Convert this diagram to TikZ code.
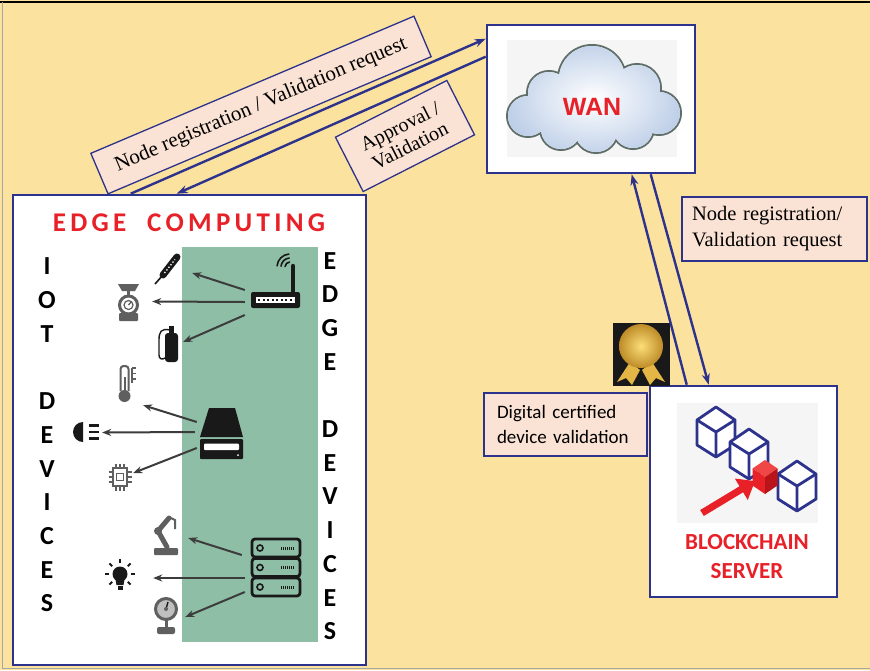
\documentclass[tikz,border=0pt]{standalone}
\usepackage{fontspec}
\usetikzlibrary{arrows.meta,shadings,calc}
\newfontfamily\carlito{Carlito}
\newfontfamily\carlitowide[LetterSpace=16]{Carlito}
\newfontfamily\serifface{Liberation Serif}
\newfontfamily\arialface{Liberation Sans}
\definecolor{bgyellow}{RGB}{251,226,158}
\definecolor{navy}{RGB}{45,50,140}
\definecolor{pinklabel}{RGB}{250,226,212}
\definecolor{sage}{RGB}{143,190,166}
\definecolor{titlered}{RGB}{232,32,40}
\definecolor{redshade}{RGB}{185,20,25}
\definecolor{redlight}{RGB}{240,70,70}
\definecolor{iconink}{RGB}{25,25,25}
\definecolor{icongray}{RGB}{95,95,95}
\definecolor{cloudedge}{RGB}{95,110,105}
\definecolor{cloudblue}{RGB}{190,207,232}
\definecolor{medallight}{RGB}{252,222,120}
\definecolor{medaldark}{RGB}{190,140,40}
\definecolor{ribbongold}{RGB}{228,182,70}
\begin{document}
\begin{tikzpicture}[x=1pt,y=-1pt,
  panel/.style={draw=navy, line width=2.6pt, fill=white, inner sep=0pt},
  tag/.style={draw=navy, line width=1.3pt, fill=pinklabel, inner sep=2pt},
  flow/.style={draw=navy, line width=2.4pt, -{Stealth[length=11pt,width=8pt]}},
  ptr/.style={draw=iconink!85, line width=2pt, -{Stealth[length=9pt,width=7pt]}},
  iconspot/.style={inner sep=0pt},
  letters/.style={font=\carlito\bfseries\fontsize{26}{33.7}\selectfont, align=center, inner sep=0pt},
  blockcube/.pic={
    \draw[navy, line width=2.8pt, fill=white, line join=round]
      (0,-25) -- (19,-12) -- (19,13) -- (0,25) -- (-19,13) -- (-19,-12) -- cycle;
    \draw[navy, line width=2.8pt, line join=round]
      (-19,-12) -- (0,0) -- (19,-12) (0,0) -- (0,25);
  }]
\useasboundingbox (0,0) rectangle (870,670);
\fill[bgyellow] (0,0) rectangle (870,670);
\draw[black, line width=2pt] (0,2) -- (870,2);
\draw[gray!70, line width=1pt] (2,2) -- (2,668) -- (870,668);

% ---------------- main panels ----------------
\node[panel, minimum width=353pt, minimum height=470pt] (edge) at (189.5,430) {};
\node[panel, minimum width=208pt, minimum height=148pt] (wan) at (591,99) {};
\node[panel, minimum width=187pt, minimum height=211pt] (chain) at (743.5,491.5) {};

% ---------------- edge computing panel ----------------
\fill[sage] (182,247) rectangle (318,642);
\node[font=\carlitowide\bfseries\fontsize{27}{30}\selectfont, text=titlered] (edgetitle) at (189,223) {EDGE\ \ COMPUTING};
\node[letters] (iotcol) at (47,435) {I\\O\\T\\[33.7pt]D\\E\\V\\I\\C\\E\\S};
\node[letters] (edgecol) at (330,446) {E\\D\\G\\E\\[33.7pt]D\\E\\V\\I\\C\\E\\S};

% edge devices
\node[iconspot, minimum width=49pt, minimum height=16pt] (router) at (275.5,300) {};
\node[iconspot, minimum width=43pt, minimum height=50pt] (hdd) at (221.5,433) {};
\node[iconspot, minimum width=52pt, minimum height=59pt] (rack) at (276,567.5) {};

% router
\draw[iconink, line width=4.5pt, line cap=round] (293,292) -- (293,266);
\foreach \r in {5,9,13}
  \draw[iconink, line width=1.6pt, line cap=round] (290,267) ++(185:\r) arc[start angle=185, end angle=265, radius=\r];
\fill[iconink, rounded corners=2pt] (251,292) rectangle (300,308);
\fill[white] (256,297) rectangle (295,303);
\draw[iconink, line width=2pt, dash pattern=on 2pt off 2.5pt] (258,300) -- (294,300);

% storage drive
\fill[iconink] (209,408) -- (235,408) -- (243,437) -- (200,437) -- cycle;
\fill[iconink, rounded corners=1pt] (200,439) rectangle (243,459);
\fill[white, rounded corners=1pt] (204,443.5) rectangle (239,450);
\fill[white] (238,455) circle (1);

% server rack
\foreach \yy in {539,558.5,578} {
  \draw[iconink, line width=2.8pt, rounded corners=3pt] (252,\yy) rectangle ++(48,18);
  \draw[iconink, line width=1.6pt] (260,{\yy+9}) circle (3);
  \draw[iconink, line width=3pt, dash pattern=on 1pt off 1pt] (281,{\yy+9}) -- (294,{\yy+9});
}

% IoT devices
\node[iconspot, minimum width=27pt, minimum height=30pt] (pen) at (166.5,268) {};
\node[iconspot, minimum width=23pt, minimum height=37pt] (scale) at (128.5,301.5) {};
\node[iconspot, minimum width=21pt, minimum height=37pt] (cylinder) at (167.5,343.5) {};
\node[iconspot, minimum width=18pt, minimum height=38pt] (thermo) at (126,384) {};
\node[iconspot, minimum width=30pt, minimum height=21pt] (lamp) at (85,432.5) {};
\node[iconspot, minimum width=18pt, minimum height=27pt] (chip) at (119,476.5) {};
\node[iconspot, minimum width=25pt, minimum height=40pt] (robot) at (165.5,535) {};
\node[iconspot, minimum width=30pt, minimum height=40pt] (bulb) at (120,580) {};
\node[iconspot, minimum width=25pt, minimum height=37pt] (gauge) at (165.5,616.5) {};

% syringe
\draw[iconink, line width=7pt, line cap=round] (163,275) -- (177,257);
\draw[white, line width=1.3pt, dash pattern=on 1.3pt off 2pt] (164.5,273) -- (175,259.5);
\draw[iconink, line width=1.6pt] (163,275) -- (155,284);
% kitchen scale
\fill[icongray] (118,284) -- (139,284) -- (135,291) -- (122,291) -- cycle;
\draw[icongray, line width=2.2pt] (128.5,291) -- (128.5,296);
\draw[icongray, line width=3pt] (128.5,305) circle (9);
\draw[icongray, line width=1.2pt] (128.5,305) circle (4.5);
\draw[icongray, line width=1.3pt] (128.5,305) -- (131.5,301.5);
\fill[icongray, rounded corners=1pt] (119,313) rectangle (138,321);
% gas cylinder
\fill[iconink, rounded corners=3pt] (165,333) rectangle (178,362);
\fill[iconink] (169,326) rectangle (174,333);
\draw[iconink, line width=1.4pt] (170,330) .. controls (161,328) and (159,332) .. (159,340) -- (159,355) .. controls (159,359) and (162,360) .. (165,358);
% thermometer
\draw[icongray, line width=2pt, rounded corners=3pt] (120.5,391) -- (120.5,366) -- (128.5,366) -- (128.5,391);
\fill[icongray] (124.5,396) circle (6);
\draw[icongray, line width=2pt] (124.5,392) -- (124.5,377);
\draw[icongray, line width=1.3pt] (132,368) -- (132,383) (132,368) -- (136,368) (132,373.5) -- (136,373.5) (132,379) -- (136,379);
% head lamp
\fill[iconink] (83,422) arc[start angle=270, end angle=90, radius=10] -- cycle;
\draw[iconink, line width=2.4pt] (89,425.5) -- (99,425.5) (89,432) -- (99,432) (89,438.5) -- (99,438.5);
% chip
\draw[icongray, line width=2pt] (113,468) rectangle (127,486);
\draw[icongray, line width=1.4pt] (116.5,473.5) rectangle (123.5,480.5);
\foreach \px in {116,120,124}
  \draw[icongray, line width=1.2pt] (\px,463.5) -- (\px,468) (\px,486) -- (\px,490.5);
\foreach \py in {472,477,482}
  \draw[icongray, line width=1.2pt] (108.5,\py) -- (113,\py) (127,\py) -- (131.5,\py);
% robot arm
\fill[icongray, rounded corners=1pt] (154,548) rectangle (178,555);
\draw[icongray, line width=5pt, line cap=round, line join=round] (167,547) -- (158,531) -- (169,518);
\fill[icongray] (158,531) circle (4);
\draw[icongray, line width=2pt] (169,517) -- (175,520) -- (175,529);
% light bulb
\fill[iconink] (120,574) circle (7.5);
\fill[iconink] (115,577) -- (125,577) -- (123.5,585) -- (116.5,585) -- cycle;
\fill[iconink] (117.5,586) rectangle (122.5,590);
\foreach \a in {0,45,135,180,225,270,315}
  \draw[iconink, line width=2pt] ($(120,574)+(\a:11)$) -- ($(120,574)+(\a:15)$);
% pressure gauge
\draw[icongray, line width=3pt, fill=icongray!40] (166,609) circle (10.5);
\draw[iconink, line width=1.4pt] (166,609) -- (168,602);
\fill[icongray] (166,609) circle (2);
\draw[icongray, line width=3pt] (166,620) -- (166,627);
\fill[icongray, rounded corners=2pt] (157,627) rectangle (175,634);

% device links
\draw[ptr] ([xshift=-6pt,yshift=10pt]router.west) -- ([xshift=12pt,yshift=-5pt]pen.east);
\draw[ptr] ([xshift=-6pt,yshift=-2pt]router.west) -- ([xshift=12pt]scale.east);
\draw[ptr] ([xshift=-6pt,yshift=-15pt]router.west) -- ([xshift=5pt,yshift=1.5pt]cylinder.east);
\draw[ptr] ([xshift=-3pt,yshift=11pt]hdd.west) -- ([xshift=8pt,yshift=-2pt]thermo.south east);
\draw[ptr] ([xshift=-5pt,yshift=1pt]hdd.west) -- ([xshift=2pt]lamp.east);
\draw[ptr] ([xshift=-3pt,yshift=-15pt]hdd.west) -- ([xshift=5pt,yshift=3.5pt]chip.east);
\draw[ptr] ([xshift=-8pt,yshift=12.5pt]rack.west) -- ([xshift=10pt,yshift=-3pt]robot.east);
\draw[ptr] ([xshift=-5pt,yshift=-10.5pt]rack.west) -- ([xshift=18pt,yshift=2pt]bulb.east);
\draw[ptr] ([xshift=-5pt,yshift=-24.5pt]rack.west) -- ([xshift=7pt,yshift=-0.5pt]gauge.east);

% ---------------- WAN cloud (union of puffs) ----------------
\fill[gray!8] (507,40) rectangle (677,157);
\def\cloudpuffs{(592,79) circle (33) (549,93) circle (21) (528,116) circle (20)
  (637,88) circle (23) (659,113) circle (21) (561,129) circle (20)
  (596,131) circle (21) (633,128) circle (20) (594,108) circle (33)}
\draw[cloudedge, line width=4pt] \cloudpuffs;
\fill[white] \cloudpuffs;
\begin{scope}
  \clip \cloudpuffs;
  \shade[inner color=white, outer color=cloudblue] (505,40) rectangle (683,158);
\end{scope}
\node[font=\arialface\bfseries\fontsize{25}{28}\selectfont, text=titlered] (wantext) at (592,107) {WAN};

% ---------------- blockchain server ----------------
\fill[gray!8] (677,403) rectangle (818,523);
\pic at (716,432) {blockcube};
\pic at (749,454) {blockcube};
\pic at (797,486) {blockcube};
\draw[titlered, line width=7pt, -{Triangle[length=16pt,width=24pt]}] (702,513) -- (755,481);
\begin{scope}[shift={(765,477)}]
  \fill[redlight] (0,-17) -- (12.5,-8.5) -- (0,0) -- (-12.5,-8.5) -- cycle;
  \fill[titlered] (-12.5,-8.5) -- (0,0) -- (0,17) -- (-12.5,8.5) -- cycle;
  \fill[redshade] (0,0) -- (12.5,-8.5) -- (12.5,8.5) -- (0,17) -- cycle;
\end{scope}
\node[font=\carlito\bfseries\fontsize{23}{29}\selectfont, text=titlered, align=center] (chaintext) at (747,557) {BLOCKCHAIN\\SERVER};

% certificate badge
\fill[black!90] (613,323) rectangle (670,386);
\fill[ribbongold] (630,362) -- (640,370) -- (632,385) -- (626,378) -- (617,382) -- cycle;
\fill[ribbongold] (652,362) -- (642,370) -- (650,385) -- (656,378) -- (665,382) -- cycle;
\shade[inner color=medallight, outer color=medaldark] (641,346) circle (22);

% ---------------- message flows ----------------
\draw[flow] ([xshift=119pt]edge.north west) -- ([yshift=-15pt]wan.north west);
\draw[flow] ([yshift=-33pt]wan.north west) -- ([xshift=165pt]edge.north west);
\draw[flow] ([xshift=38pt]chain.north west) -- ([xshift=146pt]wan.south west);
\draw[flow] ([xshift=165pt]wan.south west) -- ([xshift=60pt]chain.north west);

% ---------------- labels ----------------
\node[tag, rotate=23, minimum width=351pt, minimum height=44pt, font=\serifface\fontsize{21}{24}\selectfont] (reqlabel) at (261,105) {Node registration / Validation request};
\node[tag, rotate=27, minimum width=125pt, minimum height=61pt, align=center, font=\serifface\fontsize{20}{22}\selectfont] (approvallabel) at (405,136) {Approval /\\Validation};
\node[tag, minimum width=185pt, minimum height=64pt, text width=165pt, align=left, font=\serifface\fontsize{20.5}{26}\selectfont] (reqlabel2) at (774.5,229) {Node registration/\\Validation request};
\node[tag, minimum width=163pt, minimum height=63pt, text width=137pt, align=left, font=\carlito\fontsize{19}{25}\selectfont] (certlabel) at (565.5,424.5) {Digital certified\\device validation};
\end{tikzpicture}
\end{document}
